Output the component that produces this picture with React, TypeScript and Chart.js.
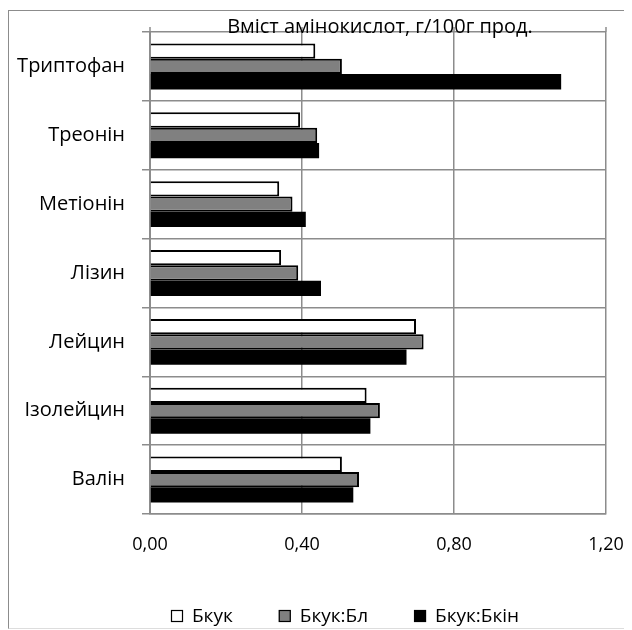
import React, { useEffect, useRef } from "react";
import { Chart, registerables } from "chart.js";

Chart.register(...registerables);

const categories = ["Триптофан", "Треонін", "Метіонін", "Лізин", "Лейцин", "Ізолейцин", "Валін"];
const seriesNames = ["Бкук", "Бкук:Бл", "Бкук:Бкін"];
const bkuk = [0.435, 0.395, 0.34, 0.345, 0.70, 0.57, 0.505];
const bkukBl = [0.505, 0.44, 0.375, 0.39, 0.72, 0.605, 0.55];
const bkukBkin = [1.082, 0.445, 0.41, 0.45, 0.675, 0.58, 0.535];
const xTickValues = [0, 0.4, 0.8, 1.2];
const titleText = "Вміст амінокислот, г/100г прод.";

const FONT = "'Open Sans', 'Noto Sans', sans-serif";
const GRID = "#8c8c8c";

const overlayPlugin = {
  id: "overlay",
  beforeDatasetsDraw(chart: any) {
    const { ctx, chartArea, scales } = chart;
    ctx.save();
    ctx.strokeStyle = GRID;
    ctx.lineWidth = 1.5;
    for (const v of xTickValues) {
      const x = scales.x.getPixelForValue(v);
      ctx.beginPath();
      ctx.moveTo(x, chartArea.top - 5);
      ctx.lineTo(x, chartArea.top);
      ctx.stroke();
    }
    ctx.restore();
  },
  afterDraw(chart: any) {
    const { ctx, chartArea } = chart;
    ctx.save();
    ctx.font = `20px ${FONT}`;
    ctx.fillStyle = "#000";
    ctx.textAlign = "center";
    ctx.textBaseline = "middle";
    ctx.fillText(titleText, (chartArea.left + chartArea.right) / 2 + 2, chartArea.top - 5);

    // legend
    ctx.font = `19px ${FONT}`;
    const y = chartArea.bottom + 102;
    let x = chartArea.left + 21;
    const box = 12;
    ctx.textAlign = "left";
    chart.data.datasets.forEach((ds: any) => {
      ctx.fillStyle = ds.backgroundColor;
      ctx.fillRect(x, y - box / 2, box, box);
      ctx.strokeStyle = "#000";
      ctx.lineWidth = 1.2;
      ctx.strokeRect(x + 0.5, y - box / 2 + 0.5, box - 1, box - 1);
      ctx.fillStyle = "#000";
      const tx = x + box + 9;
      ctx.fillText(ds.label, tx, y + 1);
      x = tx + ctx.measureText(ds.label).width + 46;
    });
    ctx.restore();
  },
};

export default function App() {
  const ref = useRef<HTMLCanvasElement | null>(null);
  useEffect(() => {
    if (!ref.current) return;
    const chart = new Chart(ref.current, {
      type: "bar",
      data: {
        labels: categories,
        datasets: [
          { label: seriesNames[0], data: bkuk, backgroundColor: "#ffffff", borderColor: "#000000", borderWidth: 2 },
          { label: seriesNames[1], data: bkukBl, backgroundColor: "#808080", borderColor: "#000000", borderWidth: 2 },
          { label: seriesNames[2], data: bkukBkin, backgroundColor: "#000000", borderColor: "#000000", borderWidth: 0 },
        ],
      },
      options: {
        indexAxis: "y",
        responsive: false,
        animation: false,
        devicePixelRatio: 1,
        layout: { padding: { left: 0, right: 26, top: 21, bottom: 0 } },
        datasets: { bar: { categoryPercentage: 0.667, barPercentage: 1.0 } },
        plugins: {
          legend: { display: false },
          title: { display: false },
          tooltip: { enabled: false },
        },
        scales: {
          x: {
            min: 0,
            max: 1.2,
            afterBuildTicks(scale: any) {
              scale.ticks = xTickValues.map((v) => ({ value: v }));
            },
            afterFit(scale: any) {
              scale.height = 114;
              scale.paddingLeft = 0;
              scale.paddingRight = 0;
            },
            ticks: {
              color: "#000",
              font: { family: FONT, size: 18 },
              padding: 20,
              callback: (v: any) => Number(v).toFixed(2).replace(".", ","),
            },
            grid: { color: GRID, lineWidth: 1.5, drawTicks: false },
            border: { display: true, color: GRID, width: 1.5 },
          },
          y: {
            afterFit(scale: any) {
              scale.width = 141;
              scale.paddingTop = 0;
              scale.paddingBottom = 0;
            },
            ticks: {
              color: "#000",
              font: { family: FONT, size: 20 },
              padding: 17,
              crossAlign: "near",
            },
            grid: { color: GRID, lineWidth: 1.5, offset: true, drawTicks: true, tickLength: 8 },
            border: { display: true, color: GRID, width: 2 },
          },
        },
      },
      plugins: [overlayPlugin],
    });
    return () => chart.destroy();
  }, []);

  return (
    <div
      style={{
        marginTop: 2,
        width: 640,
        height: 617,
        borderTop: "1.5px solid #8c8c8c",
        borderLeft: "1.5px solid #8c8c8c",
        borderBottom: "1px solid #dddddd",
        boxSizing: "content-box",
        overflow: "hidden",
      }}
    >
      <canvas ref={ref} width={623} height={617} style={{ display: "block" }} />
    </div>
  );
}
